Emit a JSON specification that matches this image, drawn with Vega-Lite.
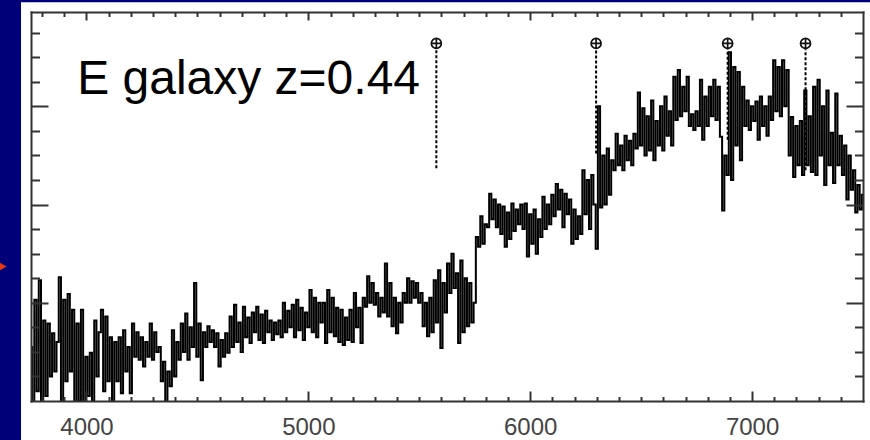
{
  "$schema": "https://vega.github.io/schema/vega-lite/v6.json",
  "width": 832,
  "height": 389,
  "autosize": {"type": "none"},
  "padding": {"left": 31, "top": 12, "right": 7, "bottom": 39},
  "background": "#000078",
  "config": {"view": {"stroke": null}},
  "datasets": {
    "spectrum": [
      {"lam":3750,"flux":0.55},{"lam":3760,"flux":-0.2},{"lam":3770,"flux":1.03},{"lam":3780,"flux":0.1},{"lam":3790,"flux":1.23},{"lam":3800,"flux":-0.1},{"lam":3810,"flux":0.82},{"lam":3820,"flux":0.05},{"lam":3830,"flux":0.79},{"lam":3840,"flux":0.25},
      {"lam":3850,"flux":0.69},{"lam":3860,"flux":0.3},{"lam":3870,"flux":0.6},{"lam":3880,"flux":1.26},{"lam":3890,"flux":-0.1},{"lam":3900,"flux":1.03},{"lam":3910,"flux":0.2},{"lam":3920,"flux":1.09},{"lam":3930,"flux":0.3},{"lam":3940,"flux":0.93},
      {"lam":3950,"flux":-0.1},{"lam":3960,"flux":0.79},{"lam":3970,"flux":0.0},{"lam":3980,"flux":0.93},{"lam":3990,"flux":-0.15},{"lam":4000,"flux":0.45},{"lam":4010,"flux":0.05},{"lam":4020,"flux":0.49},{"lam":4030,"flux":0.0},{"lam":4040,"flux":0.82},
      {"lam":4050,"flux":0.25},{"lam":4060,"flux":0.7},{"lam":4070,"flux":0.93},{"lam":4080,"flux":0.1},{"lam":4090,"flux":0.86},{"lam":4100,"flux":0.2},{"lam":4110,"flux":0.65},{"lam":4120,"flux":-0.1},{"lam":4130,"flux":0.6},{"lam":4140,"flux":0.2},
      {"lam":4150,"flux":0.65},{"lam":4160,"flux":0.08},{"lam":4170,"flux":0.72},{"lam":4180,"flux":0.3},{"lam":4190,"flux":0.55},{"lam":4200,"flux":0.08},{"lam":4210,"flux":0.79},{"lam":4220,"flux":0.45},{"lam":4230,"flux":0.7},{"lam":4240,"flux":0.42},
      {"lam":4250,"flux":0.65},{"lam":4260,"flux":0.35},{"lam":4270,"flux":0.6},{"lam":4280,"flux":0.45},{"lam":4290,"flux":0.79},{"lam":4300,"flux":0.42},{"lam":4310,"flux":0.7},{"lam":4320,"flux":0.5},{"lam":4330,"flux":0.55},{"lam":4340,"flux":0.2},
      {"lam":4350,"flux":0.4},{"lam":4360,"flux":-0.05},{"lam":4370,"flux":0.3},{"lam":4380,"flux":0.15},{"lam":4390,"flux":0.72},{"lam":4400,"flux":0.25},{"lam":4410,"flux":0.6},{"lam":4420,"flux":0.42},{"lam":4430,"flux":0.79},{"lam":4440,"flux":0.5},
      {"lam":4450,"flux":0.89},{"lam":4460,"flux":0.42},{"lam":4470,"flux":0.75},{"lam":4480,"flux":0.55},{"lam":4490,"flux":1.2},{"lam":4500,"flux":0.45},{"lam":4510,"flux":0.79},{"lam":4520,"flux":0.21},{"lam":4530,"flux":0.7},{"lam":4540,"flux":0.55},
      {"lam":4550,"flux":0.76},{"lam":4560,"flux":0.6},{"lam":4570,"flux":0.72},{"lam":4580,"flux":0.55},{"lam":4590,"flux":0.69},{"lam":4600,"flux":0.35},{"lam":4610,"flux":0.62},{"lam":4620,"flux":0.45},{"lam":4630,"flux":0.69},{"lam":4640,"flux":0.49},
      {"lam":4650,"flux":0.86},{"lam":4660,"flux":0.55},{"lam":4670,"flux":0.98},{"lam":4680,"flux":0.6},{"lam":4690,"flux":0.8},{"lam":4700,"flux":0.5},{"lam":4710,"flux":0.96},{"lam":4720,"flux":0.65},{"lam":4730,"flux":0.85},{"lam":4740,"flux":0.59},
      {"lam":4750,"flux":0.9},{"lam":4760,"flux":0.7},{"lam":4770,"flux":0.96},{"lam":4780,"flux":0.62},{"lam":4790,"flux":0.88},{"lam":4800,"flux":0.59},{"lam":4810,"flux":0.92},{"lam":4820,"flux":0.7},{"lam":4830,"flux":0.82},{"lam":4840,"flux":0.62},
      {"lam":4850,"flux":0.8},{"lam":4860,"flux":0.68},{"lam":4870,"flux":0.82},{"lam":4880,"flux":0.65},{"lam":4890,"flux":1.0},{"lam":4900,"flux":0.7},{"lam":4910,"flux":0.92},{"lam":4920,"flux":0.75},{"lam":4930,"flux":0.98},{"lam":4940,"flux":0.65},
      {"lam":4950,"flux":1.03},{"lam":4960,"flux":0.72},{"lam":4970,"flux":0.95},{"lam":4980,"flux":0.62},{"lam":4990,"flux":0.9},{"lam":5000,"flux":0.75},{"lam":5010,"flux":1.13},{"lam":5020,"flux":0.7},{"lam":5030,"flux":1.05},{"lam":5040,"flux":0.65},
      {"lam":5050,"flux":1.0},{"lam":5060,"flux":0.8},{"lam":5070,"flux":1.0},{"lam":5080,"flux":0.59},{"lam":5090,"flux":1.13},{"lam":5100,"flux":0.7},{"lam":5110,"flux":1.05},{"lam":5120,"flux":0.66},{"lam":5130,"flux":0.95},{"lam":5140,"flux":0.6},
      {"lam":5150,"flux":0.93},{"lam":5160,"flux":0.57},{"lam":5170,"flux":0.85},{"lam":5180,"flux":0.62},{"lam":5190,"flux":0.93},{"lam":5200,"flux":0.6},{"lam":5210,"flux":1.1},{"lam":5220,"flux":0.75},{"lam":5230,"flux":0.95},{"lam":5240,"flux":0.59},
      {"lam":5250,"flux":1.05},{"lam":5260,"flux":0.96},{"lam":5270,"flux":1.27},{"lam":5280,"flux":1.0},{"lam":5290,"flux":1.2},{"lam":5300,"flux":0.98},{"lam":5310,"flux":1.1},{"lam":5320,"flux":0.86},{"lam":5330,"flux":1.05},{"lam":5340,"flux":0.9},
      {"lam":5350,"flux":1.4},{"lam":5360,"flux":0.86},{"lam":5370,"flux":1.2},{"lam":5380,"flux":0.76},{"lam":5390,"flux":1.05},{"lam":5400,"flux":0.69},{"lam":5410,"flux":1.0},{"lam":5420,"flux":0.8},{"lam":5430,"flux":1.1},{"lam":5440,"flux":1.0},
      {"lam":5450,"flux":1.25},{"lam":5460,"flux":1.0},{"lam":5470,"flux":1.22},{"lam":5480,"flux":1.05},{"lam":5490,"flux":1.2},{"lam":5500,"flux":1.0},{"lam":5510,"flux":1.1},{"lam":5520,"flux":0.76},{"lam":5530,"flux":1.0},{"lam":5540,"flux":0.66},
      {"lam":5550,"flux":1.05},{"lam":5560,"flux":0.7},{"lam":5570,"flux":1.23},{"lam":5580,"flux":0.8},{"lam":5590,"flux":1.33},{"lam":5600,"flux":0.54},{"lam":5610,"flux":1.2},{"lam":5620,"flux":0.9},{"lam":5630,"flux":1.4},{"lam":5640,"flux":1.1},
      {"lam":5650,"flux":1.5},{"lam":5660,"flux":1.15},{"lam":5670,"flux":1.3},{"lam":5680,"flux":0.59},{"lam":5690,"flux":1.43},{"lam":5700,"flux":0.7},{"lam":5710,"flux":1.25},{"lam":5720,"flux":0.76},{"lam":5730,"flux":1.2},{"lam":5740,"flux":0.8},
      {"lam":5750,"flux":1.0},{"lam":5760,"flux":1.67},{"lam":5770,"flux":1.57},{"lam":5780,"flux":1.88},{"lam":5790,"flux":1.6},{"lam":5800,"flux":1.8},{"lam":5810,"flux":1.77},{"lam":5820,"flux":2.11},{"lam":5830,"flux":1.85},{"lam":5840,"flux":2.05},
      {"lam":5850,"flux":1.77},{"lam":5860,"flux":2.0},{"lam":5870,"flux":1.7},{"lam":5880,"flux":1.98},{"lam":5890,"flux":1.57},{"lam":5900,"flux":1.92},{"lam":5910,"flux":1.65},{"lam":5920,"flux":2.01},{"lam":5930,"flux":1.73},{"lam":5940,"flux":1.95},
      {"lam":5950,"flux":1.8},{"lam":5960,"flux":2.0},{"lam":5970,"flux":1.75},{"lam":5980,"flux":2.01},{"lam":5990,"flux":1.47},{"lam":6000,"flux":1.9},{"lam":6010,"flux":1.6},{"lam":6020,"flux":1.95},{"lam":6030,"flux":1.5},{"lam":6040,"flux":1.85},
      {"lam":6050,"flux":1.67},{"lam":6060,"flux":2.08},{"lam":6070,"flux":1.75},{"lam":6080,"flux":2.0},{"lam":6090,"flux":1.8},{"lam":6100,"flux":2.1},{"lam":6110,"flux":1.88},{"lam":6120,"flux":2.21},{"lam":6130,"flux":1.95},{"lam":6140,"flux":2.15},
      {"lam":6150,"flux":1.77},{"lam":6160,"flux":2.11},{"lam":6170,"flux":1.9},{"lam":6180,"flux":2.05},{"lam":6190,"flux":1.6},{"lam":6200,"flux":1.95},{"lam":6210,"flux":1.65},{"lam":6220,"flux":1.88},{"lam":6230,"flux":1.7},{"lam":6240,"flux":2.35},
      {"lam":6250,"flux":1.9},{"lam":6260,"flux":2.25},{"lam":6270,"flux":1.75},{"lam":6280,"flux":2.3},{"lam":6290,"flux":2.0},{"lam":6300,"flux":1.55},{"lam":6310,"flux":3.0},{"lam":6320,"flux":1.97},{"lam":6330,"flux":2.5},{"lam":6340,"flux":2.0},
      {"lam":6350,"flux":2.57},{"lam":6360,"flux":2.1},{"lam":6370,"flux":2.45},{"lam":6380,"flux":2.35},{"lam":6390,"flux":2.72},{"lam":6400,"flux":2.4},{"lam":6410,"flux":2.6},{"lam":6420,"flux":2.35},{"lam":6430,"flux":2.7},{"lam":6440,"flux":2.45},
      {"lam":6450,"flux":2.65},{"lam":6460,"flux":2.4},{"lam":6470,"flux":2.72},{"lam":6480,"flux":2.57},{"lam":6490,"flux":3.14},{"lam":6500,"flux":2.6},{"lam":6510,"flux":2.98},{"lam":6520,"flux":2.5},{"lam":6530,"flux":2.9},{"lam":6540,"flux":2.55},
      {"lam":6550,"flux":3.06},{"lam":6560,"flux":2.45},{"lam":6570,"flux":2.85},{"lam":6580,"flux":2.6},{"lam":6590,"flux":3.0},{"lam":6600,"flux":2.55},{"lam":6610,"flux":3.1},{"lam":6620,"flux":2.7},{"lam":6630,"flux":2.95},{"lam":6640,"flux":2.6},
      {"lam":6650,"flux":3.3},{"lam":6660,"flux":2.86},{"lam":6670,"flux":3.37},{"lam":6680,"flux":2.9},{"lam":6690,"flux":3.2},{"lam":6700,"flux":2.95},{"lam":6710,"flux":3.3},{"lam":6720,"flux":2.8},{"lam":6730,"flux":2.92},{"lam":6740,"flux":2.76},
      {"lam":6750,"flux":2.95},{"lam":6760,"flux":2.8},{"lam":6770,"flux":3.27},{"lam":6780,"flux":2.66},{"lam":6790,"flux":3.1},{"lam":6800,"flux":2.8},{"lam":6810,"flux":3.2},{"lam":6820,"flux":2.9},{"lam":6830,"flux":3.27},{"lam":6840,"flux":2.86},
      {"lam":6850,"flux":3.2},{"lam":6860,"flux":2.69},{"lam":6870,"flux":1.94},{"lam":6880,"flux":2.5},{"lam":6890,"flux":2.3},{"lam":6900,"flux":3.55},{"lam":6910,"flux":2.25},{"lam":6920,"flux":3.4},{"lam":6930,"flux":2.6},{"lam":6940,"flux":3.35},
      {"lam":6950,"flux":2.45},{"lam":6960,"flux":3.2},{"lam":6970,"flux":2.8},{"lam":6980,"flux":3.06},{"lam":6990,"flux":2.76},{"lam":7000,"flux":3.0},{"lam":7010,"flux":2.85},{"lam":7020,"flux":3.05},{"lam":7030,"flux":2.66},{"lam":7040,"flux":3.1},
      {"lam":7050,"flux":2.8},{"lam":7060,"flux":3.0},{"lam":7070,"flux":2.7},{"lam":7080,"flux":3.1},{"lam":7090,"flux":2.86},{"lam":7100,"flux":3.47},{"lam":7110,"flux":2.95},{"lam":7120,"flux":3.4},{"lam":7130,"flux":2.9},{"lam":7140,"flux":3.47},
      {"lam":7150,"flux":3.0},{"lam":7160,"flux":3.37},{"lam":7170,"flux":2.5},{"lam":7180,"flux":2.89},{"lam":7190,"flux":2.28},{"lam":7200,"flux":2.8},{"lam":7210,"flux":2.4},{"lam":7220,"flux":2.85},{"lam":7230,"flux":2.3},{"lam":7240,"flux":3.16},
      {"lam":7250,"flux":2.4},{"lam":7260,"flux":2.9},{"lam":7270,"flux":2.33},{"lam":7280,"flux":3.2},{"lam":7290,"flux":2.3},{"lam":7300,"flux":3.27},{"lam":7310,"flux":2.5},{"lam":7320,"flux":3.0},{"lam":7330,"flux":2.2},{"lam":7340,"flux":3.16},
      {"lam":7350,"flux":2.4},{"lam":7360,"flux":2.73},{"lam":7370,"flux":2.22},{"lam":7380,"flux":3.13},{"lam":7390,"flux":2.4},{"lam":7400,"flux":2.7},{"lam":7410,"flux":2.3},{"lam":7420,"flux":2.6},{"lam":7430,"flux":2.05},{"lam":7440,"flux":2.5},
      {"lam":7450,"flux":2.15},{"lam":7460,"flux":2.35},{"lam":7470,"flux":1.92},{"lam":7480,"flux":2.2},{"lam":7490,"flux":1.95},{"lam":7500,"flux":2.1}
    ],
    "skylines": [
      {"lam": 5577, "lo": 2.37},
      {"lam": 6297, "lo": 2.52},
      {"lam": 6890, "lo": 2.66},
      {"lam": 7241, "lo": 2.35}
    ],
    "one": [{}]
  },
  "resolve": {"axis": {"x": "independent", "y": "independent"}},
  "layer": [
    {
      "data": {"name": "one"},
      "mark": {"type": "rect", "fill": "#ffffff", "clip": false},
      "encoding": {
        "x": {"datum": 3705, "type": "quantitative", "scale": {"domain": [3750, 7500], "nice": false, "zero": false}, "axis": null},
        "x2": {"datum": 7545},
        "y": {"datum": -0.45, "type": "quantitative", "scale": {"domain": [0, 3.96], "nice": false, "zero": false}, "axis": null},
        "y2": {"datum": 4.06}
      }
    },
    {
      "data": {"name": "spectrum"},
      "mark": {"type": "line", "interpolate": "step", "color": "#000000", "strokeWidth": 2.0, "clip": true},
      "encoding": {
        "x": {
          "field": "lam", "type": "quantitative",
          "scale": {"domain": [3750, 7500], "nice": false, "zero": false},
          "axis": {
            "orient": "bottom", "title": null, "grid": false, "zindex": 1,
            "values": [3800,3900,4000,4100,4200,4300,4400,4500,4600,4700,4800,4900,5000,5100,5200,5300,5400,5500,5600,5700,5800,5900,6000,6100,6200,6300,6400,6500,6600,6700,6800,6900,7000,7100,7200,7300,7400],
            "format": "d",
            "labelExpr": "datum.value % 1000 === 0 ? datum.label : ''",
            "tickSize": {"condition": {"test": "datum.value % 1000 === 0", "value": -10}, "value": -4.5},
            "tickColor": "#333333", "tickWidth": 2,
            "domainColor": "#333333", "domainWidth": 2, "domainCap": "square",
            "labelFont": "Liberation Sans", "labelFontSize": 24, "labelColor": "#444444",
            "labelPadding": 24, "labelFlush": false, "labelOverlap": false
          }
        },
        "y": {
          "field": "flux", "type": "quantitative",
          "scale": {"domain": [0, 3.96], "nice": false, "zero": false},
          "axis": {
            "orient": "left", "title": null, "grid": false, "zindex": 1, "labels": false,
            "values": [0.25,0.5,0.75,1,1.25,1.5,1.75,2,2.25,2.5,2.75,3,3.25,3.5,3.75],
            "tickSize": {"condition": {"test": "datum.value % 1 === 0", "value": -17}, "value": -8.5},
            "tickColor": "#333333", "tickWidth": 2,
            "domainColor": "#333333", "domainWidth": 2, "domainCap": "square"
          }
        }
      }
    },
    {
      "data": {"name": "skylines"},
      "mark": {"type": "rule", "color": "#000000", "strokeWidth": 2, "strokeDash": [3, 2]},
      "encoding": {
        "x": {
          "field": "lam", "type": "quantitative",
          "scale": {"domain": [3750, 7500], "nice": false, "zero": false},
          "axis": {
            "orient": "top", "title": null, "grid": false, "zindex": 1, "labels": false,
            "values": [3800,3900,4000,4100,4200,4300,4400,4500,4600,4700,4800,4900,5000,5100,5200,5300,5400,5500,5600,5700,5800,5900,6000,6100,6200,6300,6400,6500,6600,6700,6800,6900,7000,7100,7200,7300,7400],
            "tickSize": {"condition": {"test": "datum.value % 1000 === 0", "value": -8}, "value": -4.5},
            "tickColor": "#333333", "tickWidth": 2,
            "domainColor": "#333333", "domainWidth": 2, "domainCap": "square"
          }
        },
        "y": {
          "field": "lo", "type": "quantitative",
          "scale": {"domain": [0, 3.96], "nice": false, "zero": false},
          "axis": {
            "orient": "right", "title": null, "grid": false, "zindex": 1, "labels": false,
            "values": [0.25,0.5,0.75,1,1.25,1.5,1.75,2,2.25,2.5,2.75,3,3.25,3.5,3.75],
            "tickSize": {"condition": {"test": "datum.value % 1 === 0", "value": -17}, "value": -8.5},
            "tickColor": "#333333", "tickWidth": 2,
            "domainColor": "#333333", "domainWidth": 2, "domainCap": "square"
          }
        },
        "y2": {"datum": 3.58}
      }
    },
    {
      "data": {"name": "skylines"},
      "mark": {"type": "point", "shape": "M-1,0A1,1 0 1,0 1,0A1,1 0 1,0 -1,0M-1,0L1,0M0,-1L0,1", "filled": false, "stroke": "#111111", "strokeWidth": 1.7, "size": 100, "opacity": 1},
      "encoding": {
        "x": {"field": "lam", "type": "quantitative", "scale": {"domain": [3750, 7500], "nice": false, "zero": false}, "axis": null},
        "y": {"datum": 3.64, "type": "quantitative", "scale": {"domain": [0, 3.96], "nice": false, "zero": false}, "axis": null}
      }
    },
    {
      "data": {"name": "one"},
      "mark": {"type": "text", "text": "E galaxy z=0.44", "font": "Liberation Sans", "fontSize": 48, "align": "left", "baseline": "alphabetic", "color": "#000000"},
      "encoding": {
        "x": {"datum": 3958, "type": "quantitative", "scale": {"domain": [3750, 7500], "nice": false, "zero": false}, "axis": null},
        "y": {"datum": 3.13, "type": "quantitative", "scale": {"domain": [0, 3.96], "nice": false, "zero": false}, "axis": null}
      }
    },
    {
      "data": {"name": "one"},
      "mark": {"type": "point", "shape": "triangle-right", "filled": true, "fill": "#e8380d", "strokeWidth": 0, "size": 110, "opacity": 1, "clip": false},
      "encoding": {
        "x": {"datum": 3619, "type": "quantitative", "scale": {"domain": [3750, 7500], "nice": false, "zero": false}, "axis": null},
        "y": {"datum": 1.37, "type": "quantitative", "scale": {"domain": [0, 3.96], "nice": false, "zero": false}, "axis": null}
      }
    }
  ]
}
